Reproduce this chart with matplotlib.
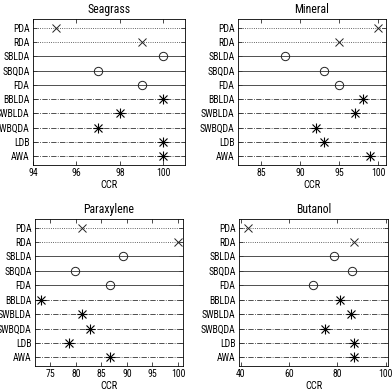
import matplotlib.pyplot as plt

plt.rcParams['font.family'] = ['Roboto Condensed', 'DejaVu Sans']

methods = ["PDA", "RDA", "SBLDA", "SBQDA", "FDA", "BBLDA", "SWBLDA", "SWBQDA", "LDB", "AWA"]

seagrass = [95.05, 99, 100, 97, 99, 100, 98, 97, 100, 100]
mineral = [100, 95, 88, 93, 95, 98, 97, 92, 93, 99]
paraxylene = [81.2, 100, 89.2, 79.9, 86.6, 73.2, 81.3, 82.7, 78.6, 86.7]
butanol = [43, 86.9, 78.5, 86.2, 70.1, 81.2, 85.5, 74.9, 87, 87]

W, H = 392, 391

def box(l, t, r, b):
    return [l / W, 1 - b / H, (r - l) / W, (b - t) / H]

panels = [
    ("Seagrass", seagrass, box(33, 19, 185, 165), (94, 101), [94, 96, 98, 100]),
    ("Mineral", mineral, box(238, 19, 386, 165), (82, 101), [85, 90, 95, 100]),
    ("Paraxylene", paraxylene, box(35, 219, 183, 366), (72, 101), [75, 80, 85, 90, 95, 100]),
    ("Butanol", butanol, box(239, 219, 388, 366), (39.3, 101), [40, 60, 80, 100]),
]

# line style / marker for each method row
styles = [":", ":", "-", "-", "-", "-.", "-.", "-.", "-.", "-."]
markers = ["x", "x", "o", "o", "o", "*", "*", "*", "*", "*"]

fig = plt.figure(figsize=(3.92, 3.91), dpi=100)

for title, vals, pos, xlim, xticks in panels:
    ax = fig.add_axes(pos)
    for i, (m, v) in enumerate(zip(methods, vals)):
        y = i + 1
        ax.axhline(y, color="#333333", lw=0.6, ls=styles[i])
        if markers[i] == "*":
            ax.plot(v, y, marker="x", ms=6, mec="black", mew=0.8, ls="none")
            ax.plot(v, y, marker="+", ms=7, mec="black", mew=0.8, ls="none")
        else:
            ax.plot(v, y, marker=markers[i], ms=6, mfc="none", mec="#222222", mew=0.7, ls="none")
    ax.set_xlim(*xlim)
    ax.set_ylim(10.6, 0.4)
    ax.set_xticks(xticks)
    ax.set_yticks(range(1, 11))
    ax.set_yticklabels(methods)
    ax.tick_params(labelsize=7, direction="in", length=3, width=0.5, top=True, right=True, pad=2.5)
    ax.set_title(title, fontsize=8.5, pad=4)
    ax.set_xlabel("CCR", fontsize=7.5, labelpad=1)
    for s in ax.spines.values():
        s.set_linewidth(0.6)

plt.savefig("out.png", dpi=100)
